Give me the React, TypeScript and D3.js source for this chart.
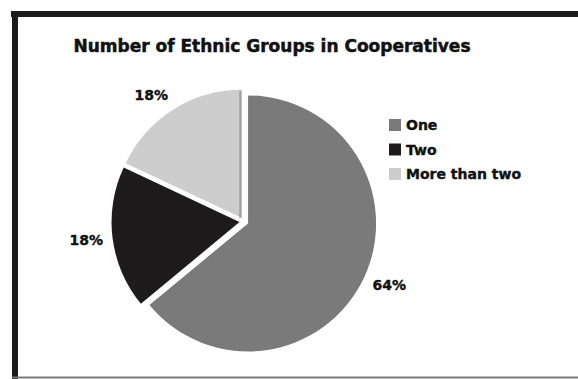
import React from "react";
import * as d3 from "d3";

const title = "Number of Ethnic Groups in Cooperatives";
const categories = ["One", "Two", "More than two"];
const values = [64, 18, 18];
const colors = ["#7a7a7a", "#1e1b1c", "#cdcdcd"];
const labels = ["64%", "18%", "18%"];

const W = 578;
const H = 379;
const cx = 244;
const cy = 221.5;
const R = 128;
const explode = 4.5;
const labelR = 142;
const font = "'DejaVu Sans', Verdana, sans-serif";

export default function App() {
  const pie = d3
    .pie<number>()
    .sort(null)
    .value((d) => d)
    .startAngle(0)
    .endAngle(2 * Math.PI);
  const arcs = pie(values);
  const arc = d3.arc<d3.PieArcDatum<number>>().innerRadius(0).outerRadius(R);

  return (
    <svg
      width={W}
      height={H}
      style={{ position: "fixed", left: 0, top: 0, background: "#fff" }}
    >
      <rect x={0} y={0} width={W} height={H} fill="#fff" />
      {/* frame */}
      <rect x={11} y={11} width={W - 11} height={6} fill="#1c1c1c" />
      <rect x={12} y={11} width={6} height={H - 11} fill="#1c1c1c" />
      <rect x={12} y={376.5} width={W - 12} height={2} fill="#7a7a7a" />

      <text
        x={272}
        y={52}
        textAnchor="middle"
        fontFamily={font}
        fontWeight="bold"
        fontSize={17}
        fill="#111"
        stroke="#111"
        strokeWidth={0.5}
      >
        {title}
      </text>

      <g transform={`translate(${cx},${cy})`}>
        {arcs.map((a, i) => {
          const mid = (a.startAngle + a.endAngle) / 2;
          const dx = Math.sin(mid) * explode;
          const dy = -Math.cos(mid) * explode;
          const ex = Math.sin(a.endAngle) * R;
          const ey = -Math.cos(a.endAngle) * R;
          return (
            <g key={i} transform={`translate(${dx},${dy})`}>
              <path d={arc(a) || ""} fill={colors[i]} />
              {i === 2 && (
                <line
                  x1={-1.2}
                  y1={0}
                  x2={ex - 1.2}
                  y2={ey + 1}
                  stroke="#a3a3a3"
                  strokeWidth={2.4}
                />
              )}
            </g>
          );
        })}
        {arcs.map((a, i) => {
          const mid = (a.startAngle + a.endAngle) / 2;
          const ux = Math.sin(mid);
          const uy = -Math.cos(mid);
          const px = ux * labelR;
          const py = uy * labelR + uy * 8;
          return (
            <text
              key={"l" + i}
              x={px}
              y={py}
              textAnchor={ux < 0 ? "end" : "start"}
              dominantBaseline="central"
              fontFamily={font}
              fontWeight="bold"
              fontSize={14}
              fill="#111"
              stroke="#111"
              strokeWidth={0.4}
            >
              {labels[i]}
            </text>
          );
        })}
      </g>

      <g transform="translate(389,119)">
        {categories.map((c, i) => (
          <g key={c} transform={`translate(0,${i * 24.5})`}>
            <rect x={0} y={0} width={12} height={12} fill={colors[i]} />
            <text
              x={17}
              y={6}
              dominantBaseline="central"
              fontFamily={font}
              fontWeight="bold"
              fontSize={14}
              fill="#111"
              stroke="#111"
              strokeWidth={0.4}
            >
              {c}
            </text>
          </g>
        ))}
      </g>
    </svg>
  );
}
